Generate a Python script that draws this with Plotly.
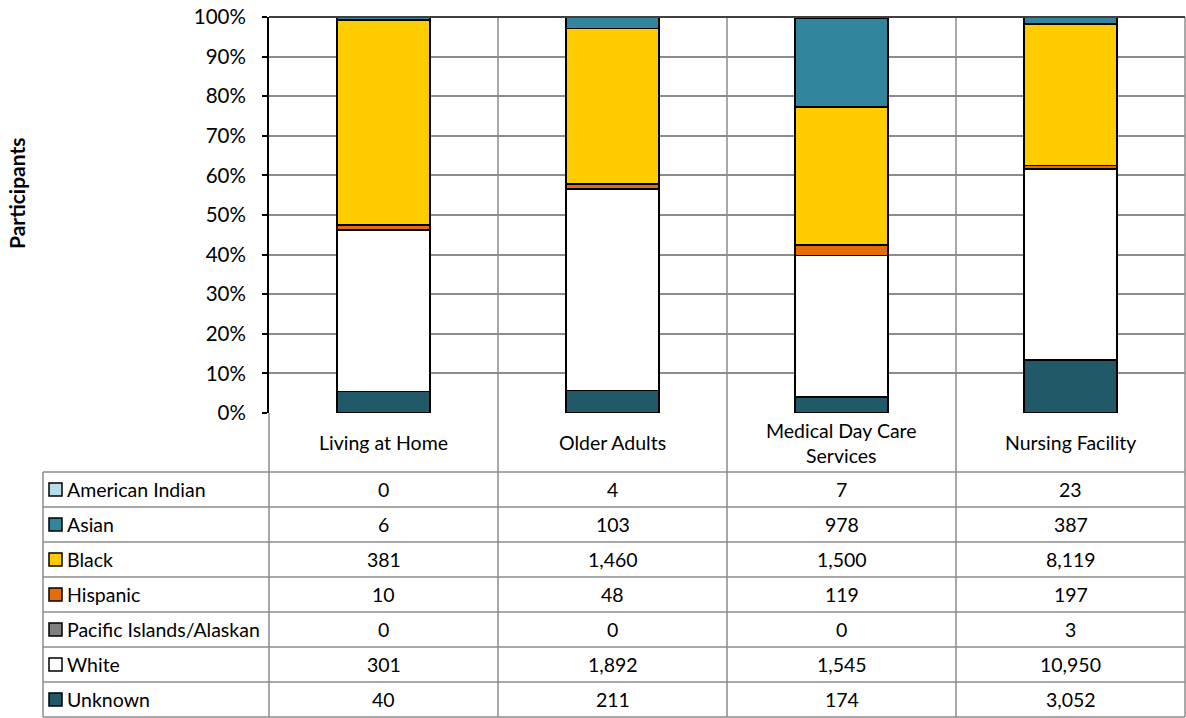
import plotly.graph_objects as go

categories = ["Living at Home", "Older Adults", "Medical Day Care<br>Services", "Nursing Facility"]
series_names = ["American Indian", "Asian", "Black", "Hispanic", "Pacific Islands/Alaskan", "White", "Unknown"]
american_indian = [0, 4, 7, 23]
asian = [6, 103, 978, 387]
black = [381, 1460, 1500, 8119]
hispanic = [10, 48, 119, 197]
pacific = [0, 0, 0, 3]
white = [301, 1892, 1545, 10950]
unknown = [40, 211, 174, 3052]
colors = ["#B7DEE8", "#31859C", "#FFCC00", "#E46C0A", "#7F7F7F", "#FFFFFF", "#215968"]
y_ticks = [0, 10, 20, 30, 40, 50, 60, 70, 80, 90, 100]
y_tick_text = [f"{v}%" for v in y_ticks]

series_values = [american_indian, asian, black, hispanic, pacific, white, unknown]

W, H = 1186, 718
FONT = "Lato"
FS = 19.5
PX_L, PX_R = 269, 1185
PX_T, PX_B = 17, 413
TABLE_L = 43
HEADER_B = 472
ROW_H = 35


def px(x):
    return x / W


def py(y):
    return 1 - y / H


fig = go.Figure()
xs = list(range(len(categories)))
# stack bottom-up: Unknown first
for name, vals, col in reversed(list(zip(series_names, series_values, colors))):
    fig.add_trace(go.Bar(
        x=xs, y=vals, name=name, width=0.405,
        marker=dict(color=col, line=dict(color="black", width=1.8)),
        showlegend=False,
    ))

shapes = []
annotations = []
n = len(categories)
col_w = (PX_R - PX_L) / n
grid_col = "#8C8C8C"
bottom = HEADER_B + ROW_H * len(series_names)

# vertical separators through plot area and header/table
for i in range(1, n):
    x = PX_L + col_w * i
    shapes.append(dict(type="line", xref="paper", yref="paper", x0=px(x), x1=px(x),
                       y0=py(PX_T), y1=py(bottom),
                       line=dict(color=grid_col, width=1.5), layer="below"))
# right border
shapes.append(dict(type="line", xref="paper", yref="paper", x0=px(PX_R), x1=px(PX_R),
                   y0=py(PX_T), y1=py(bottom), line=dict(color=grid_col, width=1.5)))
# top border
shapes.append(dict(type="line", xref="paper", yref="paper", x0=px(PX_L), x1=px(PX_R),
                   y0=py(PX_T), y1=py(PX_T), line=dict(color="#404040", width=2)))
# header bottom + row lines
for r in range(len(series_names) + 1):
    y = HEADER_B + ROW_H * r
    shapes.append(dict(type="line", xref="paper", yref="paper", x0=px(TABLE_L), x1=px(PX_R),
                       y0=py(y), y1=py(y), line=dict(color=grid_col, width=1.5)))
# left column borders
for x in [TABLE_L, PX_L]:
    y_top = HEADER_B if x == TABLE_L else PX_B
    shapes.append(dict(type="line", xref="paper", yref="paper", x0=px(x), x1=px(x),
                       y0=py(y_top), y1=py(bottom), line=dict(color=grid_col, width=1.5)))

# header labels
for i, c in enumerate(categories):
    annotations.append(dict(xref="paper", yref="paper", x=px(PX_L + col_w * (i + 0.5)),
                            y=py((PX_B + HEADER_B) / 2), text=c, showarrow=False,
                            font=dict(family=FONT, size=FS, color="black"),
                            xanchor="center", yanchor="middle"))

# rows
for r, (name, vals, col) in enumerate(zip(series_names, series_values, colors)):
    yc = HEADER_B + ROW_H * (r + 0.5)
    shapes.append(dict(type="rect", xref="paper", yref="paper",
                       x0=px(49), x1=px(62), y0=py(yc - 6.5), y1=py(yc + 6.5),
                       fillcolor=col, line=dict(color="black", width=1.5)))
    annotations.append(dict(xref="paper", yref="paper", x=px(65), y=py(yc), text=name,
                            showarrow=False, font=dict(family=FONT, size=FS, color="black"),
                            xanchor="left", yanchor="middle"))
    for i, v in enumerate(vals):
        annotations.append(dict(xref="paper", yref="paper", x=px(PX_L + col_w * (i + 0.5)),
                                y=py(yc), text=f"{v:,}", showarrow=False,
                                font=dict(family=FONT, size=FS, color="black"),
                                xanchor="center", yanchor="middle"))

# y-axis title
annotations.append(dict(xref="paper", yref="paper", x=px(17), y=py(194), text="<b>Participants</b>",
                        textangle=-90, showarrow=False,
                        font=dict(family=FONT, size=21, color="black"),
                        xanchor="center", yanchor="middle"))

fig.update_layout(
    template="none",
    width=W, height=H,
    margin=dict(l=0, r=0, t=0, b=0, pad=0),
    paper_bgcolor="white", plot_bgcolor="white",
    barmode="stack", barnorm="percent",
    showlegend=False,
    xaxis=dict(domain=[px(PX_L), px(PX_R)], range=[-0.5, n - 0.5], showticklabels=False,
               showgrid=False, zeroline=False, showline=False, ticks="", automargin=False),
    yaxis=dict(domain=[py(PX_B), py(PX_T)], range=[0, 100], tickmode="array",
               tickvals=y_ticks, ticktext=y_tick_text, automargin=False,
               showgrid=True, gridcolor=grid_col, gridwidth=1.5,
               zeroline=False, showline=True, linecolor="black", linewidth=2,
               ticks="outside", ticklen=5, tickcolor="black", tickwidth=1.5,
               ticklabelstandoff=12,
               tickfont=dict(family=FONT, size=20.5, color="black")),
    shapes=shapes,
    annotations=annotations,
)

fig.write_html("out.html")
